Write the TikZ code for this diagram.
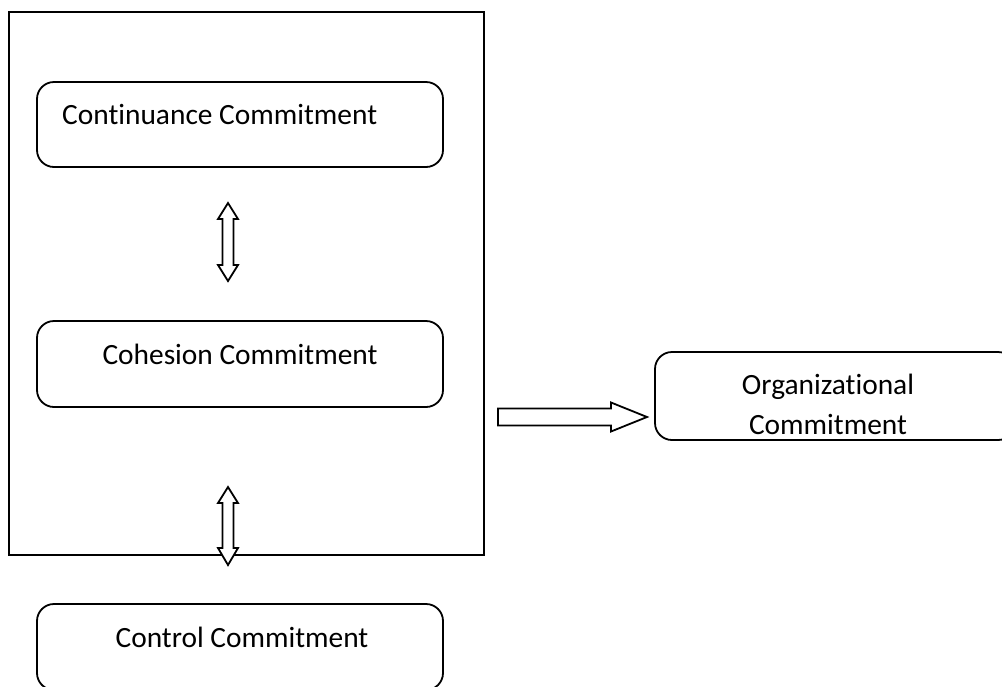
\documentclass[tikz,border=0pt]{standalone}
\usepackage{fontspec}
\setmainfont[Ligatures=NoCommon]{Carlito}
\begin{document}
\begin{tikzpicture}[x=1pt,y=-1pt,
  frame/.style={draw, line width=1.9pt},
  box/.style={draw, line width=1.8pt, rectangle, rounded corners=17pt, inner sep=0pt},
  lbl/.style={font=\fontsize{29.4}{40}\selectfont, inner sep=0pt},
  blockarrow/.style={draw, fill=white, line width=1.8pt, line join=miter}]
\useasboundingbox (0,0) rectangle (1002,686);

% enclosing frame around the three component boxes
\draw[frame] (9,12) rectangle (484,555);

% component boxes
\node[box, minimum width=406pt, minimum height=85pt] (cont) at (240,124.5) {};
\node[lbl, anchor=west] (contl) at (62,114) {Continuance Commitment};

\node[box, minimum width=406pt, minimum height=86pt] (coh) at (240,364) {};
\node[lbl] (cohl) at (240,354) {Cohesion Commitment};

\node[box, minimum width=406pt, minimum height=86pt] (ctrl) at (240,647) {};
\node[lbl] (ctrll) at (242,637) {Control Commitment};

\node[box, minimum width=360pt, minimum height=88pt] (org) at (835,396) {};
\node[lbl, align=center] (orgl) at (828,404) {Organizational\\Commitment};

% vertical double block arrows
\coordinate (a1) at (228,203);
\draw[blockarrow] (a1) -- ++(10,16) -- ++(-4.5,0) -- ++(0,46) -- ++(4.5,0)
  -- ++(-10,16) -- ++(-10,-16) -- ++(4.5,0) -- ++(0,-46) -- ++(-4.5,0) -- cycle;

\coordinate (a2) at (228,487);
\draw[blockarrow] (a2) -- ++(10,16) -- ++(-4.5,0) -- ++(0,45) -- ++(4.5,0)
  -- ++(-10,17) -- ++(-10,-17) -- ++(4.5,0) -- ++(0,-45) -- ++(-4.5,0) -- cycle;

% block arrow towards organizational commitment
\coordinate (a3) at (498,417);
\draw[blockarrow] (a3) -- ++(0,-8.5) -- ++(113,0) -- ++(0,-6) -- ++(36,14.5)
  -- ++(-36,14.5) -- ++(0,-6) -- ++(-113,0) -- cycle;
\end{tikzpicture}
\end{document}
